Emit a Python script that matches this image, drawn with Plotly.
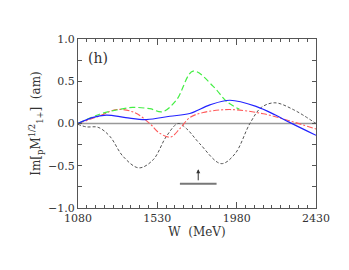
import plotly.graph_objects as go

# Blue solid
w_blue = [1080, 1160, 1241, 1350, 1468, 1601, 1714, 1828, 1942, 2093, 2200, 2283, 2430]
v_blue = [0.0, 0.07, 0.10, 0.07, 0.047, 0.086, 0.118, 0.22, 0.275, 0.20, 0.10, 0.01, -0.14]

# Green dashed
w_green = [1080, 1203, 1300, 1390, 1487, 1560, 1639, 1733, 1847, 1923, 1995]
v_green = [0.0, 0.11, 0.16, 0.19, 0.175, 0.14, 0.28, 0.62, 0.44, 0.26, 0.17]

# Red dash-dot
w_red = [1080, 1203, 1298, 1400, 1487, 1540, 1605, 1658, 1714, 1790, 1942, 2131, 2283, 2430]
v_red = [0.0, 0.09, 0.165, 0.13, 0.0, -0.11, -0.16, -0.06, 0.07, 0.13, 0.165, 0.115, 0.03, -0.065]

# Black dotted
w_black = [1080, 1127, 1194, 1260, 1336, 1425, 1506, 1582, 1648, 1695, 1771, 1892, 1970, 2055, 2120, 2197, 2301, 2430]
v_black = [-0.01, -0.04, -0.045, -0.15, -0.39, -0.525, -0.43, -0.15, 0.0, -0.06, -0.24, -0.475, -0.36, 0.0, 0.19, 0.245, 0.165, 0.0]

# Arrow marker and bar
bar_w = [1658, 1866]
bar_v = [-0.713, -0.713]
arrow_w = 1762
arrow_v = [-0.69, -0.54]

font_fam = "DejaVu Serif"
txt_col = "#333333"

fig = go.Figure()
fig.add_trace(go.Scatter(x=[1080, 2430], y=[0, 0], mode="lines",
                         line=dict(color="#999999", width=1.4), hoverinfo="skip"))
fig.add_trace(go.Scatter(x=w_black, y=v_black, mode="lines", line_shape="spline",
                         line=dict(color="#555555", width=1, dash="3px,2px")))
fig.add_trace(go.Scatter(x=w_red, y=v_red, mode="lines", line_shape="spline",
                         line=dict(color="#ff5a5a", width=1.1, dash="6px,2px,2px,2px")))
fig.add_trace(go.Scatter(x=w_green, y=v_green, mode="lines", line_shape="spline",
                         line=dict(color="#44ee44", width=1.2, dash="6px,3px")))
fig.add_trace(go.Scatter(x=w_blue, y=v_blue, mode="lines", line_shape="spline",
                         line=dict(color="#2222ff", width=1.2)))
fig.add_trace(go.Scatter(x=bar_w, y=bar_v, mode="lines",
                         line=dict(color="#777777", width=2)))
fig.add_annotation(x=arrow_w, y=arrow_v[1], ax=arrow_w, ay=arrow_v[0],
                   xref="x", yref="y", axref="x", ayref="y", text="",
                   showarrow=True, arrowhead=2, arrowsize=0.8, arrowwidth=1,
                   arrowcolor="#333333")
fig.add_annotation(x=1128, y=0.78, xref="x", yref="y", text="(h)", showarrow=False,
                   xanchor="left", yanchor="middle",
                   font=dict(family=font_fam, size=14, color=txt_col))

axis_common = dict(showline=True, linecolor="#555555", linewidth=1, mirror="allticks",
                   ticks="inside", tickcolor="#555555", showgrid=False, zeroline=False,
                   tickfont=dict(family=font_fam, size=11, color=txt_col))

fig.update_xaxes(range=[1080, 2430], tickvals=[1080, 1530, 1980, 2430], ticklen=6,
                 minor=dict(dtick=50, tick0=1080, ticklen=3, ticks="inside", tickcolor="#555555"),
                 title=dict(text="W  (MeV)", font=dict(family=font_fam, size=12, color=txt_col),
                            standoff=0),
                 **axis_common)
fig.update_yaxes(range=[-1.0, 1.0], tickvals=[-1.0, -0.5, 0.0, 0.5, 1.0],
                 ticktext=["\u22121.0", "\u22120.5", "0.0", "0.5", "1.0"], ticklen=4,
                 minor=dict(dtick=0.25, tick0=0, ticklen=4, ticks="inside", tickcolor="#555555"),
                 title=dict(text="Im[<sub>p</sub>M<sup>1/2</sup><sub>1+</sub>]  (am)",
                            font=dict(family=font_fam, size=12, color=txt_col), standoff=4),
                 **axis_common)

# page body adds an 8px offset, so margins are compensated
fig.update_layout(width=341, height=262, margin=dict(l=70, r=33, t=31, b=62),
                  paper_bgcolor="white", plot_bgcolor="white", showlegend=False)
fig.write_html("out.html")
